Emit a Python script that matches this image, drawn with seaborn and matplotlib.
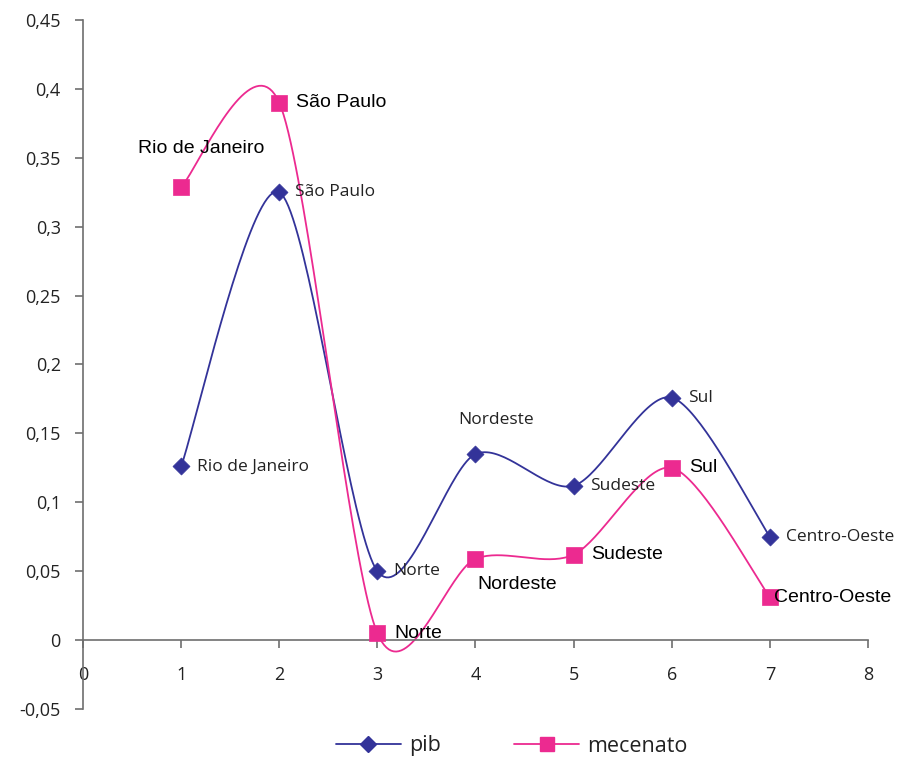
import numpy as np
import pandas as pd
import seaborn as sns
import matplotlib
matplotlib.use("Agg")
import matplotlib.pyplot as plt
from matplotlib.lines import Line2D
from matplotlib.ticker import FuncFormatter, MultipleLocator

# Regions and their indicators
regioes = ["Rio de Janeiro", "São Paulo", "Norte", "Nordeste", "Sudeste", "Sul", "Centro-Oeste"]
x_pos = [1, 2, 3, 4, 5, 6, 7]
pib = [0.126, 0.325, 0.050, 0.135, 0.112, 0.176, 0.075]
mecenato = [0.329, 0.390, 0.005, 0.059, 0.062, 0.125, 0.031]

PIB_COLOR = "#333399"
MEC_COLOR = "#EC2A90"


def smooth_curve(xs, ys, n=40, k=7.0):
    """Piecewise cubic Bezier through the points (spreadsheet-style smoothing)."""
    p = np.column_stack([xs, ys]).astype(float)
    ext = np.vstack([p[0], p, p[-1]])
    out = []
    t = np.linspace(0, 1, n)[:, None]
    for i in range(len(p) - 1):
        p0, p1 = ext[i + 1], ext[i + 2]
        c1 = p0 + (ext[i + 2] - ext[i]) / k
        c2 = p1 - (ext[i + 3] - ext[i + 1]) / k
        seg = ((1 - t) ** 3) * p0 + 3 * ((1 - t) ** 2) * t * c1 + 3 * (1 - t) * t ** 2 * c2 + t ** 3 * p1
        out.append(seg if i == 0 else seg[1:])
    pts = np.vstack(out)
    return pts[:, 0], pts[:, 1]


sns.set_style("white")
plt.rcParams["font.family"] = ["Open Sans", "DejaVu Sans"]

fig = plt.figure(figsize=(8.99, 7.58), dpi=100)
ax = fig.add_axes([83 / 899, 49 / 758, (868 - 83) / 899, (709 - 20) / 758])

for vals, color in [(pib, PIB_COLOR), (mecenato, MEC_COLOR)]:
    sx, sy = smooth_curve(x_pos, vals)
    curve = pd.DataFrame({"x": sx, "y": sy})
    sns.lineplot(data=curve, x="x", y="y", sort=False, color=color, lw=1.3,
                 ax=ax, estimator=None, zorder=2)

pts_pib = pd.DataFrame({"x": x_pos, "y": pib})
pts_mec = pd.DataFrame({"x": x_pos, "y": mecenato})
sns.scatterplot(data=pts_pib, x="x", y="y", marker="D", s=75, color=PIB_COLOR,
                edgecolor=PIB_COLOR, linewidth=0.5, ax=ax, zorder=3)
sns.scatterplot(data=pts_mec, x="x", y="y", marker="s", s=135, color=MEC_COLOR,
                edgecolor=MEC_COLOR, linewidth=0.5, ax=ax, zorder=3)

# Data labels for pib
pib_offsets = {"Nordeste": (21, 34, "center")}
for xi, yi, name in zip(x_pos, pib, regioes):
    dx, dy, ha = pib_offsets.get(name, (16, 0, "left"))
    ax.annotate(name, (xi, yi), xytext=(dx, dy), textcoords="offset pixels",
                ha=ha, va="center", fontsize=12.5, color="#222222", zorder=4)

# Data labels for mecenato (Arial-like font)
mec_offsets = {"Rio de Janeiro": (20, 38, "center"), "Nordeste": (42, -26, "center"),
               "Centro-Oeste": (4, 0, "left")}
for xi, yi, name in zip(x_pos, mecenato, regioes):
    dx, dy, ha = mec_offsets.get(name, (17, 0, "left"))
    ax.annotate(name, (xi, yi), xytext=(dx, dy), textcoords="offset pixels",
                ha=ha, va="center", fontsize=14, color="#000000",
                family="Liberation Sans", zorder=4)

ax.set_xlim(0, 8)
ax.set_ylim(-0.05, 0.45)
ax.xaxis.set_major_locator(MultipleLocator(1))
ax.yaxis.set_major_locator(MultipleLocator(0.05))


def fmt(v, _):
    v = round(v, 4)
    if abs(v) < 1e-9:
        return "0"
    return f"{v:g}".replace(".", ",")


ax.yaxis.set_major_formatter(FuncFormatter(fmt))
ax.xaxis.set_major_formatter(FuncFormatter(lambda v, _: f"{int(round(v))}"))

ax.set_xlabel("")
ax.set_ylabel("")
for side in ["top", "right"]:
    ax.spines[side].set_visible(False)
ax.spines["bottom"].set_position(("data", 0))
for side in ["left", "bottom"]:
    ax.spines[side].set_color("#6e6e6e")
    ax.spines[side].set_linewidth(1.2)

ax.tick_params(axis="x", direction="out", length=6, width=1.2, color="#6e6e6e",
               pad=13, labelsize=13, labelcolor="#222222", bottom=True)
ax.tick_params(axis="y", direction="out", length=6, width=1.2, color="#6e6e6e",
               pad=10, labelsize=13, labelcolor="#222222", left=True)

handles = [
    Line2D([0], [0], color=PIB_COLOR, lw=1.3, marker="D", markersize=8,
           markerfacecolor=PIB_COLOR, markeredgecolor=PIB_COLOR),
    Line2D([0], [0], color=MEC_COLOR, lw=1.3, marker="s", markersize=10,
           markerfacecolor=MEC_COLOR, markeredgecolor=MEC_COLOR),
]
leg = fig.legend(handles, ["pib", "mecenato"], loc="center", ncol=2,
                 bbox_to_anchor=(512 / 899, 1 - 746 / 758), frameon=False,
                 fontsize=15.5, handlelength=3, columnspacing=3.4, handletextpad=0.4)
for t in leg.get_texts():
    t.set_color("#222222")

fig.savefig("out.png", dpi=100)
